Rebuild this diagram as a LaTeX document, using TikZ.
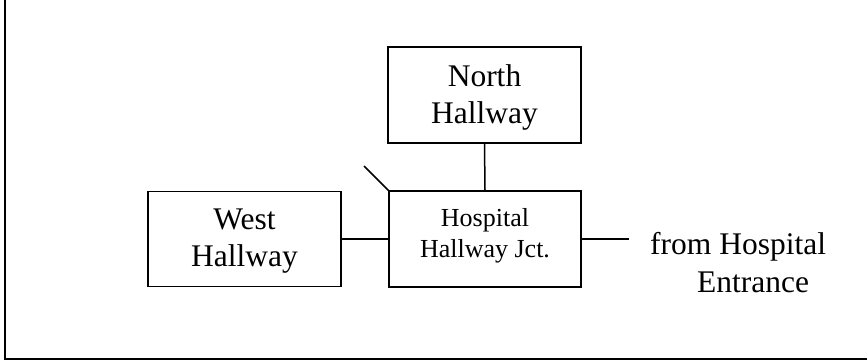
\documentclass[tikz,border=0pt]{standalone}
\usepackage{fontspec}
\setmainfont{Liberation Serif}
\begin{document}
\begin{tikzpicture}[x=1pt,y=-1pt,
  hallbox/.style={draw,line width=1.5pt,inner sep=0pt},
  boxtext/.style={inner sep=0pt,align=center,font=\fontsize{31.5}{37}\selectfont},
  jcttext/.style={inner sep=0pt,align=center,font=\fontsize{26}{31}\selectfont},
  link/.style={line width=1.5pt},
  frameline/.style={line width=2.2pt},
  plaintext/.style={inner sep=0pt,anchor=base west,font=\fontsize{31.5}{37}\selectfont}]
\useasboundingbox (0,0) rectangle (867,361);
\draw[frameline] (5,0) -- (5,359) -- (867,359);
\node[hallbox,minimum width=193pt,minimum height=96pt] (north) at (484.5,95) {};
\node[hallbox,minimum width=193pt,minimum height=95pt] (west) at (244.5,239) {};
\node[hallbox,minimum width=192pt,minimum height=96pt] (jct) at (485,239) {};
\node[boxtext] (northtext) at ([yshift=-2.5pt]north.center) {North\\Hallway};
\node[boxtext] (westtext) at ([yshift=-2.5pt]west.center) {West\\Hallway};
\node[jcttext] (jcttxt) at ([yshift=3pt]jct.center) {Hospital\\Hallway Jct.};
\coordinate (diag) at (364,166);
\coordinate (entry) at (629,239);
\node[plaintext] (from) at (650,254) {from Hospital};
\node[plaintext] (entr) at (697,292) {Entrance};
\draw[link] (north.south) -- (jct.north);
\draw[link] (west.east) -- (jct.west);
\draw[link] (jct.east) -- (entry);
\draw[link] (diag) -- (jct.north west);
\end{tikzpicture}
\end{document}
